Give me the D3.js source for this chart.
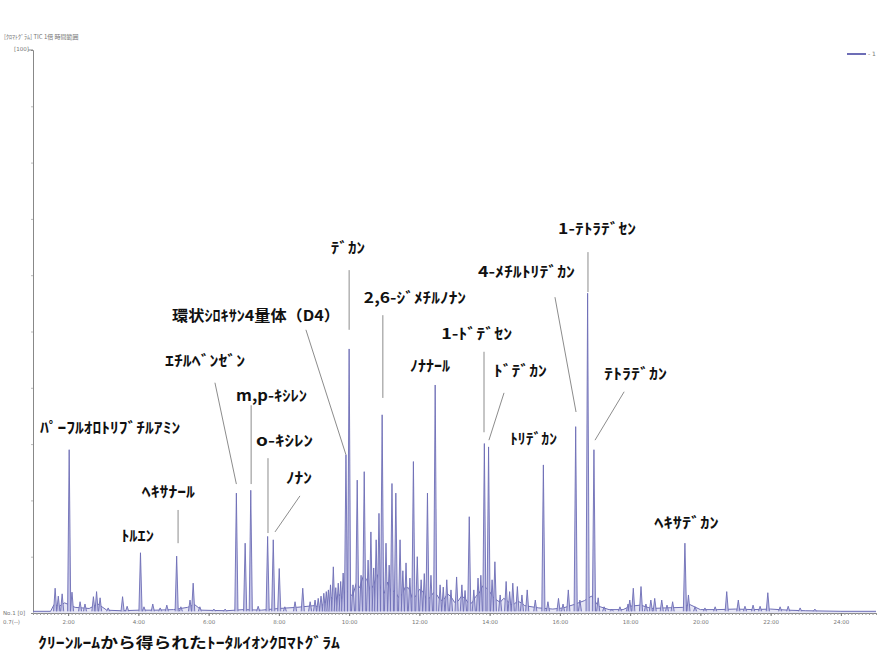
<!DOCTYPE html>
<html>
<head>
<meta charset="utf-8">
<script src="https://cdn.jsdelivr.net/npm/d3@7"></script>
<style>
  body { margin: 0; background: #fff; }
  svg { display: block; }
</style>
</head>
<body>
<div id="chart"></div>
<script>
// retention time (min) / relative intensity (%) of the peaks
const peakTimes = [1.63, 1.72, 1.83, 2.03, 2.11, 2.34, 2.48, 2.72, 2.81, 2.91, 3.14, 3.55, 3.68, 4.06, 4.16, 4.41, 4.62, 4.81,
  5.09, 5.21, 5.47, 5.56, 5.75, 6.15, 6.47, 6.79, 7.04, 7.20, 7.41, 7.68, 7.84, 8.01, 8.17, 8.46, 8.68, 8.89, 9.03, 9.12,
  9.20, 9.28, 9.35, 9.41, 9.47, 9.55, 9.62, 9.69, 9.76, 9.83, 9.91, 10.00, 10.11, 10.23, 10.34, 10.43, 10.54, 10.62,
  10.70, 10.77, 10.85, 10.94, 11.05, 11.14, 11.22, 11.33, 11.45, 11.53, 11.62, 11.73, 11.83, 11.94, 12.05, 12.14, 12.23,
  12.33, 12.45, 12.59, 12.68, 12.78, 12.90, 13.06, 13.21, 13.30, 13.42, 13.55, 13.67, 13.75, 13.85, 13.97, 14.07, 14.15,
  14.30, 14.47, 14.57, 14.66, 14.79, 14.92, 15.07, 15.30, 15.53, 15.66, 15.96, 16.09, 16.24, 16.45, 16.57, 16.79, 16.97,
  17.09, 17.26, 17.48, 17.71, 17.94, 17.99, 18.09, 18.31, 18.45, 18.59, 18.70, 18.90, 19.05, 19.21, 19.56, 19.66, 19.85,
  20.13, 20.42, 20.75, 21.08, 21.27, 21.50, 21.70, 21.92, 22.27, 22.50, 22.84, 23.26];
const peakHeights = [4.4, 3.0, 3.4, 29.0, 3.7, 2.0, 1.6, 2.9, 3.8, 2.7, 0.9, 2.9, 1.2, 10.7, 1.1, 1.6, 0.9, 1.4,
  10.1, 1.1, 2.3, 5.3, 1.1, 0.7, 0.7, 21.3, 12.4, 21.8, 1.2, 13.6, 13.0, 7.9, 1.1, 2.0, 4.4, 2.0, 2.3, 2.6,
  3.0, 3.5, 3.8, 4.1, 5.0, 8.2, 4.5, 5.3, 5.6, 7.1, 28.1, 46.9, 5.0, 23.6, 6.7, 25.1, 9.4, 14.4,
  8.0, 13.0, 17.7, 35.2, 12.4, 8.5, 23.0, 21.3, 13.0, 7.5, 8.9, 6.2, 26.9, 10.0, 5.9, 7.0, 21.3,
  6.7, 40.5, 5.0, 4.6, 5.9, 4.1, 6.4, 5.0, 4.0, 17.1, 4.1, 6.2, 6.7, 30.1, 29.5, 5.9, 9.1,
  3.2, 5.6, 3.8, 5.3, 4.7, 3.2, 4.1, 2.3, 26.3, 2.0, 2.6, 1.6, 4.1, 33.1, 2.3, 56.8, 29.0,
  2.7, 1.1, 0.7, 1.1, 1.6, 2.3, 4.4, 4.7, 1.6, 2.3, 2.6, 2.3, 1.4, 2.0, 12.4, 3.2, 1.1,
  0.9, 1.1, 3.8, 2.3, 1.2, 1.4, 1.2, 3.6, 1.1, 1.2, 0.9, 0.7];

// baseline / noise between the peaks
const baseTimes = [1.0, 1.5, 1.6, 1.75, 1.9, 2.2, 2.6, 2.85, 3.1, 3.5, 4.0, 4.5, 5.0, 5.4, 5.6, 5.8, 6.5, 7.0, 7.5, 8.0,
  8.5, 9.0, 9.2, 9.3, 9.4, 9.5, 9.6, 9.7, 9.8, 9.9, 10.0, 10.1, 10.2, 10.3, 10.4, 10.5, 10.6, 10.7, 10.8, 10.9, 11.0,
  11.1, 11.2, 11.3, 11.4, 11.5, 11.6, 11.7, 11.8, 11.9, 12.0, 12.1, 12.2, 12.3, 12.4, 12.5, 12.6, 12.7, 12.8, 12.9,
  13.0, 13.1, 13.2, 13.3, 13.4, 13.5, 13.6, 13.7, 13.8, 13.9, 14.0, 14.1, 14.2, 14.3, 14.4, 14.5, 14.6, 14.7, 14.8,
  14.9, 15.0, 15.1, 15.4, 15.8, 16.1, 16.4, 16.7, 16.9, 17.1, 17.4, 17.8, 18.0, 18.3, 18.6, 19.0, 19.5, 19.7, 20.0,
  20.5, 21.0, 21.5, 22.0, 22.5, 23.0, 24.0, 25.0];
const baseLevels = [0.3, 0.3, 1.5, 1.2, 1.8, 1.0, 0.8, 1.6, 0.5, 0.4, 0.5, 0.5, 0.6, 1.0, 1.5, 0.5, 0.4, 0.6, 0.5, 0.8,
  1.0, 1.3, 1.0, 2.0, 1.5, 2.8, 2.0, 3.4, 2.5, 4.2, 3.5, 3.0, 5.2, 4.5, 6.5, 6.0, 4.0, 5.0, 6.8, 4.3, 3.5,
  5.5, 3.6, 4.0, 2.8, 3.2, 4.6, 4.4, 2.6, 3.0, 4.2, 3.8, 2.5, 2.7, 3.6, 3.2, 2.2, 2.4, 3.4, 2.9,
  1.9, 2.1, 3.0, 2.6, 1.7, 1.8, 2.9, 3.5, 4.8, 4.5, 3.8, 2.8, 2.3, 1.9, 2.6, 2.2, 1.5, 1.6, 2.1,
  1.8, 1.3, 1.2, 0.9, 0.7, 0.9, 1.5, 2.2, 3.0, 1.2, 0.6, 0.6, 1.2, 1.4, 0.8, 0.9, 1.0, 1.5, 0.6,
  0.6, 0.7, 0.6, 0.7, 0.5, 0.4, 0.3, 0.3];

const tickTimes = [2, 4, 6, 8, 10, 12, 14, 16, 18, 20, 22, 24];
const tickLabels = ["2:00", "4:00", "6:00", "8:00", "10:00", "12:00", "14:00", "16:00", "18:00", "20:00", "22:00", "24:00"];

// peak names: [text, left time, right time, intensity of text centre]
const peakNames = [
  ["ﾊﾟｰﾌﾙｵﾛﾄﾘﾌﾞﾁﾙｱﾐﾝ", 1.20, 5.19, 33.0],
  ["ﾄﾙｴﾝ", 3.51, 4.44, 13.7],
  ["ﾍｷｻﾅｰﾙ", 4.10, 5.61, 21.5],
  ["ｴﾁﾙﾍﾞﾝｾﾞﾝ", 4.76, 7.04, 44.9],
  ["m,p-ｷｼﾚﾝ", 6.78, 8.80, 38.7],
  ["o-ｷｼﾚﾝ", 7.35, 8.97, 30.6],
  ["ﾉﾅﾝ", 8.20, 8.94, 24.0],
  ["環状ｼﾛｷｻﾝ4量体（D4）", 4.96, 9.74, 52.8],
  ["ﾃﾞｶﾝ", 9.48, 10.45, 64.9],
  ["2,6-ｼﾞﾒﾁﾙﾉﾅﾝ", 10.42, 13.33, 56.1],
  ["ﾉﾅﾅｰﾙ", 11.73, 12.87, 43.9],
  ["1-ﾄﾞﾃﾞｾﾝ", 12.62, 14.64, 49.7],
  ["ﾄﾞﾃﾞｶﾝ", 14.12, 15.63, 43.0],
  ["ﾄﾘﾃﾞｶﾝ", 14.58, 15.92, 30.9],
  ["4-ﾒﾁﾙﾄﾘﾃﾞｶﾝ", 13.67, 16.43, 60.7],
  ["1-ﾃﾄﾗﾃﾞｾﾝ", 15.95, 18.17, 68.2],
  ["ﾃﾄﾗﾃﾞｶﾝ", 17.26, 19.05, 42.5],
  ["ﾍｷｻﾃﾞｶﾝ", 18.69, 20.52, 16.0]
];

// leader lines: [t1, i1, t2, i2]
const leaders = [
  [5.13, 18.3, 5.13, 12.4],
  [6.18, 40.9, 6.79, 22.9],
  [7.21, 36.9, 7.21, 22.9],
  [7.69, 27.5, 7.69, 14.2],
  [8.60, 20.8, 7.89, 14.4],
  [8.77, 50.3, 9.91, 28.1],
  [10.00, 60.9, 10.00, 50.3],
  [10.96, 52.9, 10.96, 38.2],
  [13.84, 46.4, 13.84, 32.1],
  [14.41, 39.1, 13.98, 30.7],
  [15.86, 56.1, 16.46, 35.7],
  [16.80, 64.1, 16.80, 57.0],
  [17.83, 39.3, 17.00, 30.7]
];

const caption = "ｸﾘｰﾝﾙｰﾑから得られたﾄｰﾀﾙｲｵﾝｸﾛﾏﾄｸﾞﾗﾑ";

const width = 890, height = 667;
const jpFont = "'Noto Sans CJK JP', 'Noto Sans', sans-serif";
const traceColor = "#6d6db6";

const svg = d3.select("#chart").append("svg")
  .attr("width", width)
  .attr("height", height);

const x = d3.scaleLinear().domain([1, 25]).range([33, 876]);
const y = d3.scaleLinear().domain([0, 100]).range([613, 50]);

// small header texts
svg.append("text")
  .attr("x", 4).attr("y", 39)
  .style("font-family", jpFont).style("font-size", "6px").attr("fill", "#777")
  .text("[ｸﾛﾏﾄｸﾞﾗﾑ] TIC 1倍 時間範囲");
svg.append("text")
  .attr("x", 14).attr("y", 51)
  .style("font-family", "DejaVu Sans").style("font-size", "5.5px").attr("fill", "#777")
  .text("[100]");
svg.append("text")
  .attr("x", 3).attr("y", 615)
  .style("font-family", "DejaVu Sans").style("font-size", "5.5px").attr("fill", "#777")
  .text("No.1  [0]");
svg.append("text")
  .attr("x", 3).attr("y", 624)
  .style("font-family", "DejaVu Sans").style("font-size", "5.5px").attr("fill", "#777")
  .text("0.7(--)");

// legend top right
svg.append("line")
  .attr("x1", 847).attr("x2", 866).attr("y1", 54).attr("y2", 54)
  .attr("stroke", traceColor).attr("stroke-width", 2);
svg.append("text")
  .attr("x", 868).attr("y", 56)
  .style("font-family", "DejaVu Sans").style("font-size", "6px").attr("fill", "#777")
  .text("- 1");

// y axis
const yAxis = svg.append("g")
  .attr("transform", `translate(${x(1)},0)`)
  .call(d3.axisLeft(y).tickValues(d3.range(10, 100, 10)).tickSize(2).tickFormat(""));
yAxis.select(".domain").attr("stroke", "#888");
yAxis.selectAll(".tick line").attr("stroke", "#bbb");
svg.append("line")
  .attr("x1", 28).attr("x2", x(1)).attr("y1", y(100)).attr("y2", y(100))
  .attr("stroke", "#888");

// x axis with minor ticks
const xMinor = svg.append("g")
  .attr("transform", `translate(0,${y(0)})`)
  .call(d3.axisBottom(x).tickValues(d3.range(1, 25.01, 0.1)).tickSize(2).tickFormat(""));
xMinor.select(".domain").attr("stroke", "#888");
xMinor.selectAll(".tick line").attr("stroke", "#999");

const xAxis = svg.append("g")
  .attr("transform", `translate(0,${y(0)})`)
  .call(d3.axisBottom(x).tickValues(tickTimes).tickSize(3).tickFormat((d, i) => tickLabels[i]));
xAxis.select(".domain").remove();
xAxis.selectAll(".tick line").attr("stroke", "#777");
xAxis.selectAll("text")
  .attr("y", 7)
  .style("font-family", "DejaVu Sans").style("font-size", "5.5px").attr("fill", "#777");

// baseline trace with a light fill underneath
const line = d3.line().x(d => x(d[0])).y(d => y(d[1]));
const area = d3.area().x(d => x(d[0])).y0(y(0)).y1(d => y(d[1]));
const base = baseTimes.map((t, i) => [t, baseLevels[i]]);
svg.append("path")
  .datum(base)
  .attr("d", area)
  .attr("fill", "#d6d6ef")
  .attr("opacity", 0.6);
svg.append("path")
  .datum(base)
  .attr("d", line)
  .attr("fill", "none")
  .attr("stroke", traceColor)
  .attr("stroke-width", 1);

// peaks
const halfWidth = 0.045;
const peaks = peakTimes.map((t, i) => ({ t: t, h: peakHeights[i] }));
svg.append("g")
  .selectAll("path")
  .data(peaks)
  .join("path")
  .attr("d", d => line([[d.t - halfWidth, 0.3], [d.t, d.h], [d.t + halfWidth, 0.3]]))
  .attr("fill", "#c3c3e6")
  .attr("stroke", traceColor)
  .attr("stroke-width", 0.9)
  .attr("stroke-linejoin", "round");

// leader lines
svg.append("g")
  .selectAll("line")
  .data(leaders)
  .join("line")
  .attr("x1", d => x(d[0])).attr("y1", d => y(d[1]))
  .attr("x2", d => x(d[2])).attr("y2", d => y(d[3]))
  .attr("stroke", "#8c8c8c")
  .attr("stroke-width", 1);

// peak names
svg.append("g")
  .selectAll("text")
  .data(peakNames)
  .join("text")
  .attr("x", d => x(d[1]))
  .attr("y", d => y(d[3]))
  .attr("dy", "0.36em")
  .attr("textLength", d => x(d[2]) - x(d[1]))
  .attr("lengthAdjust", "spacingAndGlyphs")
  .style("font-family", jpFont)
  .style("font-size", "15px")
  .style("font-weight", "bold")
  .attr("fill", "#111")
  .text(d => d[0]);

svg.append("text")
  .attr("x", 38).attr("y", 643)
  .attr("dy", "0.36em")
  .attr("textLength", 302)
  .attr("lengthAdjust", "spacingAndGlyphs")
  .style("font-family", jpFont)
  .style("font-size", "15px")
  .style("font-weight", "bold")
  .attr("fill", "#111")
  .text(caption);
</script>
</body>
</html>
